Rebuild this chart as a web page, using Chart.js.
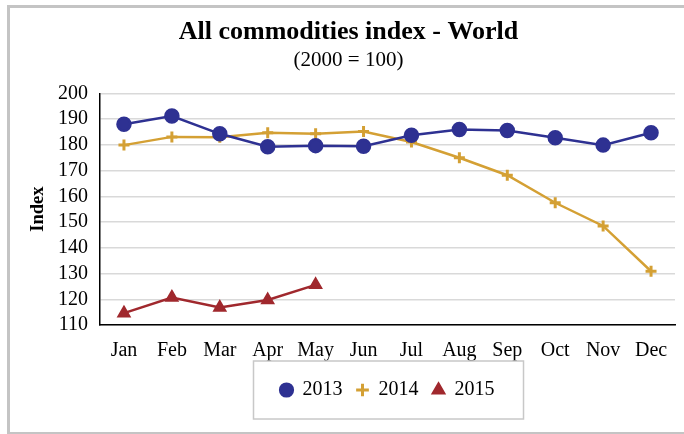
<!DOCTYPE html>
<html>
<head>
<meta charset="utf-8">
<script src="https://cdn.jsdelivr.net/npm/chart.js@4.4.0/dist/chart.umd.min.js"></script>
<style>
  body { margin: 0; background: #fff; }
  #wrap { position: relative; width: 684px; height: 434px; overflow: hidden; }
  #frame { position: absolute; left: 7px; top: 5px; width: 700px; height: 424px;
           border: 3px solid #c4c4c4; border-right: none; pointer-events: none; }
  canvas { position: absolute; left: 0; top: 0; }
</style>
</head>
<body>
<div id="wrap">
  <canvas id="grafico" width="684" height="434"></canvas>
  <div id="frame"></div>
</div>
<script>
// dados
const meses = ['Jan', 'Feb', 'Mar', 'Apr', 'May', 'Jun', 'Jul', 'Aug', 'Sep', 'Oct', 'Nov', 'Dec']
const serie2013 = [188.0, 191.2, 184.3, 179.3, 179.7, 179.5, 183.7, 186.0, 185.6, 182.8, 179.9, 184.7]
const serie2014 = [179.9, 183.1, 183.0, 184.7, 184.3, 185.2, 181.1, 175.0, 168.2, 157.5, 148.5, 130.9]
const serie2015 = [114.6, 120.7, 116.8, 119.7, 125.6, null, null, null, null, null, null, null]
const anos = ['2013', '2014', '2015']

const fonte = 'Liberation Serif, Times New Roman, serif'

// caixa cinza em volta da legenda
const caixaLegenda = {
  id: 'caixaLegenda',
  afterDraw(chart) {
    const caixas = chart.legend.legendHitBoxes
    if (!caixas || !caixas.length) return
    const ult = caixas[caixas.length - 1]
    const x1 = caixas[0].left - 27
    const x2 = ult.left + ult.width + 29
    const y1 = caixas[0].top - 19
    const y2 = caixas[0].top + caixas[0].height + 19
    const ctx = chart.ctx
    ctx.save()
    ctx.strokeStyle = '#c8c8c8'
    ctx.lineWidth = 1.5
    ctx.strokeRect(x1, y1, x2 - x1, y2 - y1)
    ctx.restore()
  }
}

const data = {
  labels: meses,
  datasets: [{
    label: anos[0],
    data: serie2013,
    borderColor: 'rgb(46, 49, 146)',
    backgroundColor: 'rgb(46, 49, 146)',
    pointStyle: 'circle',
    pointRadius: 6.5,
    borderWidth: 2.5,
  },
  {
    label: anos[1],
    data: serie2014,
    borderColor: 'rgb(212, 160, 52)',
    backgroundColor: 'rgb(212, 160, 52)',
    pointStyle: 'cross',
    pointRadius: 5.5,
    pointBorderWidth: 3,
    borderWidth: 2.5,
  },
  {
    label: anos[2],
    data: serie2015,
    borderColor: 'rgb(160, 40, 45)',
    backgroundColor: 'rgb(160, 40, 45)',
    pointStyle: 'triangle',
    pointRadius: 6,
    borderWidth: 2.5,
  }]
}

const config = {
  type: 'line',
  data: data,
  plugins: [caixaLegenda],
  options: {
    responsive: false,
    animation: false,
    layout: { padding: { left: 20, right: 7, top: 17, bottom: 24 } },
    plugins: {
      title: {
        display: true,
        text: 'All commodities index - World',
        color: '#000',
        font: { family: fonte, size: 26, weight: 'bold' },
        padding: { top: 0, bottom: 0 }
      },
      subtitle: {
        display: true,
        text: '(2000 = 100)',
        color: '#000',
        font: { family: fonte, size: 21 },
        padding: { top: 0, bottom: 20 }
      },
      legend: {
        position: 'bottom',
        fullSize: false,
        labels: {
          usePointStyle: true,
          color: '#000',
          font: { family: fonte, size: 20 },
          boxWidth: 12,
          boxHeight: 9,
          padding: 14,
        }
      },
      tooltip: { enabled: false }
    },
    scales: {
      x: {
        offset: true,
        grid: { display: false, drawTicks: false },
        border: { color: '#000', width: 1.5 },
        ticks: { color: '#000', font: { family: fonte, size: 20 }, padding: 14, maxRotation: 0, autoSkip: false },
        afterFit(scale) { scale.height = 41 }
      },
      y: {
        min: 110,
        max: 200,
        grid: { color: '#d9d9d9', lineWidth: 1.5, drawTicks: false },
        border: { color: '#000', width: 1.5 },
        ticks: { stepSize: 10, autoSkip: false, color: '#000', font: { family: fonte, size: 20 }, padding: 12 },
        title: {
          display: true,
          text: 'Index',
          color: '#000',
          font: { family: fonte, size: 18.5, weight: 'bold' },
          padding: { top: 7, bottom: 0 }
        },
        afterFit(scale) { scale.width = 80 }
      }
    }
  }
}

const myChart = new Chart(document.getElementById('grafico'), config)
</script>
</body>
</html>
